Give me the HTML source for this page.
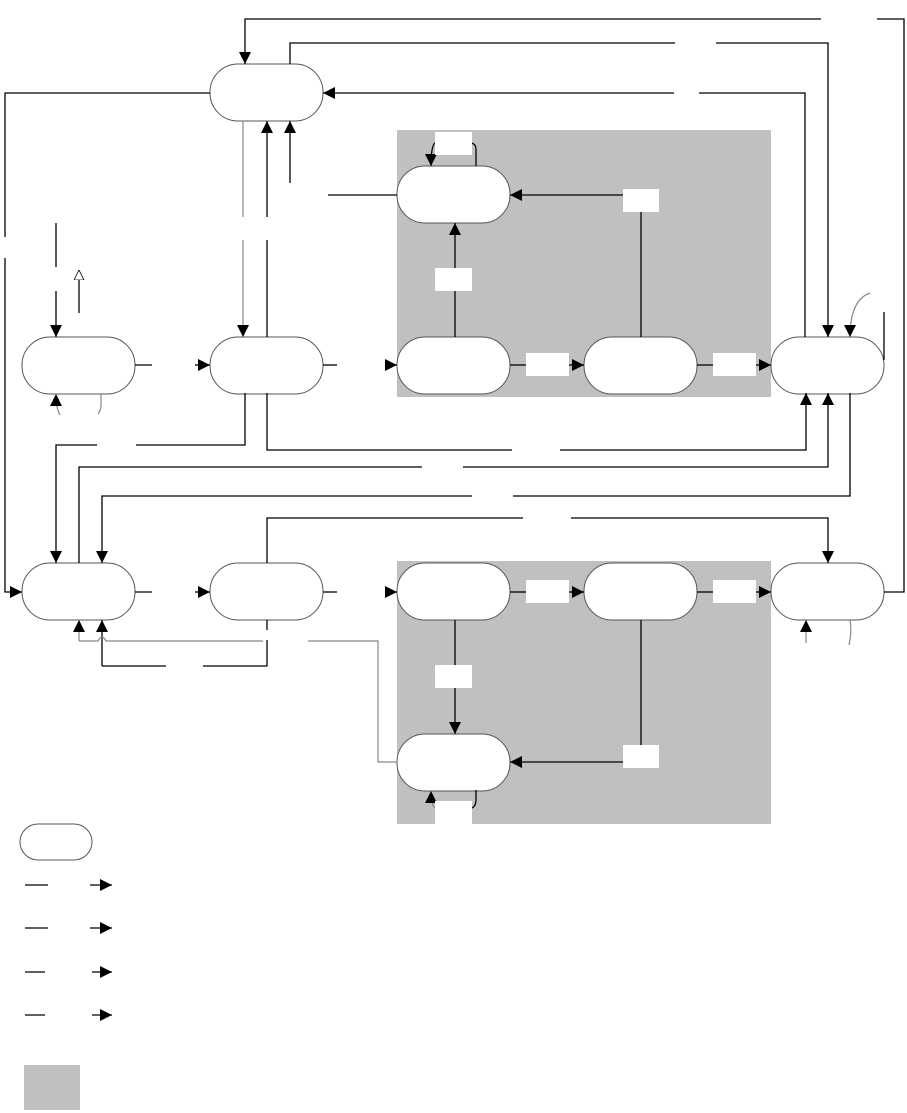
<!DOCTYPE html>
<html><head><meta charset="utf-8"><style>html,body{margin:0;padding:0;background:#fff}svg{display:block}</style></head>
<body>
<svg width="907" height="1113" viewBox="0 0 907 1113" xmlns="http://www.w3.org/2000/svg">
<defs>
<marker id="a" markerWidth="12" markerHeight="12" refX="12" refY="6" orient="auto" markerUnits="userSpaceOnUse"><path d="M0,0L12,6L0,12z" fill="#000"/></marker>
<marker id="h" markerWidth="10" markerHeight="12" refX="10" refY="5" orient="auto" markerUnits="userSpaceOnUse"><path d="M0,0L10,5L0,10z" fill="#fff" stroke="#000" stroke-width="0.8"/></marker>
</defs>
<rect x="397" y="130" width="374" height="267" fill="#c0c0c0"/>
<rect x="397" y="561" width="374" height="263" fill="#c0c0c0"/>
<g fill="#fff" stroke="#555" stroke-width="1">
<rect x="210" y="64" width="113" height="57" rx="28"/>
<rect x="397" y="166" width="113" height="57" rx="28"/>
<rect x="22" y="337" width="113" height="57" rx="28"/>
<rect x="210" y="337" width="113" height="57" rx="28"/>
<rect x="397" y="337" width="113" height="57" rx="28"/>
<rect x="584" y="337" width="113" height="57" rx="28"/>
<rect x="771" y="337" width="113" height="57" rx="28"/>
<rect x="22" y="563" width="113" height="57" rx="28"/>
<rect x="210" y="563" width="113" height="57" rx="28"/>
<rect x="397" y="563" width="113" height="57" rx="28"/>
<rect x="584" y="563" width="113" height="57" rx="28"/>
<rect x="771" y="563" width="113" height="57" rx="28"/>
<rect x="397" y="734" width="113" height="57" rx="28"/>
<rect x="20" y="824" width="72" height="36" rx="18"/>
</g>
<g fill="none" stroke="#000" stroke-width="1.3">
<path d="M884,592H904V19H877"/><path d="M821,19H245V64" marker-end="url(#a)"/>
<path d="M290,64V43H675"/><path d="M716,43H828V337" marker-end="url(#a)"/>
<path d="M805,337V93H699"/><path d="M674,93H323" marker-end="url(#a)"/>
<path d="M210,93H5V237"/><path d="M5,258V592H22" marker-end="url(#a)"/>
<path d="M267,337V240"/><path d="M267,217V121" marker-end="url(#a)"/>
<path d="M290,183V121" marker-end="url(#a)"/>
<path d="M328,195H397"/>
<path d="M56,223V267"/><path d="M56,291V337" marker-end="url(#a)"/>
<path d="M79,313V270" marker-end="url(#h)"/>
<path d="M135,365H152"/><path d="M195,365H210" marker-end="url(#a)"/>
<path d="M323,365H337"/><path d="M385,365H397" marker-end="url(#a)"/>
<path d="M510,365H526"/><path d="M569,365H584" marker-end="url(#a)"/>
<path d="M697,365H713"/><path d="M756,365H771" marker-end="url(#a)"/>
<path d="M455,337V223" marker-end="url(#a)"/>
<path d="M641,337V212"/><path d="M623,195H510" marker-end="url(#a)"/>
<path d="M476,166V150Q476,143 470,143"/>
<path d="M435,143Q431,146 431,166" marker-end="url(#a)"/>
<path d="M884,360V312"/>
<path d="M245,393V445H136"/><path d="M97,445H56V563" marker-end="url(#a)"/>
<path d="M267,393V450H512"/><path d="M560,450H806V393" marker-end="url(#a)"/>
<path d="M79,563V467H422"/><path d="M463,467H828V393" marker-end="url(#a)"/>
<path d="M850,393V496H513"/><path d="M472,496H102V563" marker-end="url(#a)"/>
<path d="M267,563V518H523"/><path d="M571,518H828V563" marker-end="url(#a)"/>
<path d="M135,592H152"/><path d="M195,592H210" marker-end="url(#a)"/>
<path d="M323,592H337"/><path d="M385,592H397" marker-end="url(#a)"/>
<path d="M510,592H526"/><path d="M569,592H584" marker-end="url(#a)"/>
<path d="M697,592H713"/><path d="M756,592H771" marker-end="url(#a)"/>
<path d="M455,620V734" marker-end="url(#a)"/>
<path d="M641,620V745"/><path d="M623,762H510" marker-end="url(#a)"/>
<path d="M102,666V620" marker-end="url(#a)"/>
<path d="M102,666H166"/><path d="M203,666H267V640"/><path d="M267,630V620"/>
<path d="M476,790V800Q476,806 472,808"/>
</g>
<g fill="none" stroke="#888" stroke-width="1.2">
<path d="M243,121V217"/><path d="M243,240V337" marker-end="url(#a)"/>
<path d="M79,641V620" marker-end="url(#a)"/>
<path d="M79,641H98Q102,633 106,641H263"/>
<path d="M308,641H378V762H397"/>
<path d="M435,808Q431,804 431,791" marker-end="url(#a)"/>
<path d="M60,415Q56,408 56,394" marker-end="url(#a)"/>
<path d="M101,394V405Q101,410 98,414"/>
<path d="M870,293Q850,300 850,337" marker-end="url(#a)"/>
<path d="M806,643V620" marker-end="url(#a)"/>
<path d="M850,620Q852,632 849,645"/>
</g>
<g fill="#fff">
<rect x="435" y="132" width="37" height="23"/>
<rect x="435" y="268" width="37" height="23"/>
<rect x="623" y="189" width="36" height="23"/>
<rect x="526" y="353" width="43" height="23"/>
<rect x="713" y="353" width="43" height="23"/>
<rect x="526" y="580" width="43" height="23"/>
<rect x="713" y="580" width="43" height="23"/>
<rect x="435" y="665" width="37" height="23"/>
<rect x="623" y="745" width="36" height="23"/>
<rect x="435" y="801" width="37" height="23"/>
</g>
<g fill="none" stroke="#000" stroke-width="1.3">
<path d="M25,885H48"/><path d="M90,885H112" marker-end="url(#a)"/>
<path d="M25,928H48"/><path d="M90,928H112" marker-end="url(#a)"/>
<path d="M25,972H45"/><path d="M92,972H112" marker-end="url(#a)"/>
<path d="M25,1015H45"/><path d="M92,1015H112" marker-end="url(#a)"/>
</g>
<rect x="24" y="1065" width="56" height="45" fill="#c0c0c0"/>
</svg>
</body></html>
